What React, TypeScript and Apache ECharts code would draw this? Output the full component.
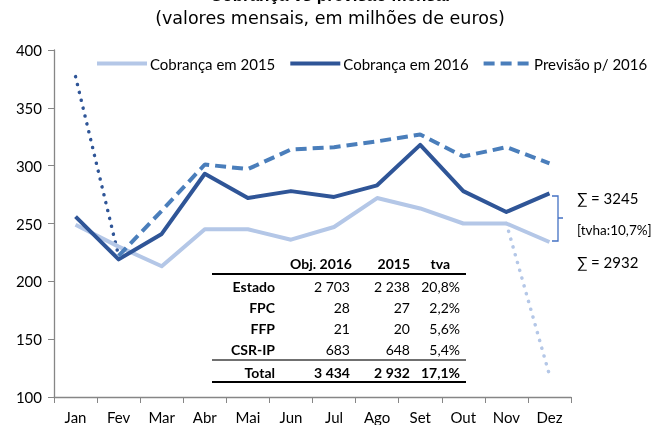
import React, { useEffect, useRef } from "react";
import * as echarts from "echarts";

const months = ["Jan", "Fev", "Mar", "Abr", "Mai", "Jun", "Jul", "Ago", "Set", "Out", "Nov", "Dez"];
const cobranca2015 = [249, 230, 213, 245, 245, 236, 247, 272, 263, 250, 250, 234];
const cobranca2016 = [256, 219, 241, 293, 272, 278, 273, 283, 318, 278, 260, 276];
const previsao2016 = [null, 222, 261, 301, 297, 314, 316, 321, 327, 308, 316, 302];
const dottedJan = [377, 222, null, null, null, null, null, null, null, null, null, null];
const dotted2015Dez = [null, null, null, null, null, null, null, null, null, null, 250, 119];

const tableHeader = ["Obj. 2016", "2015", "tva"];
const tableRows = ["Estado", "FPC", "FFP", "CSR-IP"];
const tableObj2016 = ["2 703", "28", "21", "683"];
const table2015 = ["2 238", "27", "20", "648"];
const tableTva = ["20,8%", "2,2%", "5,6%", "5,4%"];
const tableTotal = ["Total", "3 434", "2 932", "17,1%"];

const sum2016 = "∑ = 3245";
const sum2015 = "∑ = 2932";
const tvha = "[tvha:10,7%]";

const C_LIGHT = "#B4C7E7";
const C_DARK = "#2F5597";
const C_MID = "#4A7EBB";
const FONT = "Lato";

export default function App() {
  const ref = useRef<HTMLDivElement>(null);
  useEffect(() => {
    if (!ref.current) return;
    const chart = echarts.init(ref.current, null, { renderer: "svg" });
    const tf = { fontFamily: FONT, fontWeight: "bold" as const, fontSize: 14, fill: "#000" };
    const graphics: any[] = [];
    graphics.push({ type: "text", x: 330, y: 4, style: { text: "Cobrança vs previsão mensal", fontFamily: "Liberation Sans", fontWeight: "bold", fontSize: 17, fill: "#000", align: "center", verticalAlign: "bottom" } });
    graphics.push({ type: "text", x: 330, y: 18, style: { text: "(valores mensais, em milhões de euros)", fontFamily: "DejaVu Sans", fontSize: 17.5, fill: "#000", align: "center", verticalAlign: "middle" } });
    const colX = [352, 410, 450];
    tableHeader.forEach((h, i) => {
      graphics.push({ type: "text", x: colX[i], y: 263, style: { ...tf, text: h, align: "right", verticalAlign: "middle" } });
    });
    const rowY = [286, 307, 328, 349];
    const valX = [350, 410, 460];
    tableRows.forEach((r, i) => {
      graphics.push({ type: "text", x: 275, y: rowY[i], style: { ...tf, text: r, align: "right", verticalAlign: "middle" } });
      [tableObj2016[i], table2015[i], tableTva[i]].forEach((v, j) => {
        graphics.push({ type: "text", x: valX[j], y: rowY[i], style: { ...tf, fontWeight: "normal", text: v, align: "right", verticalAlign: "middle" } });
      });
    });
    graphics.push({ type: "text", x: 275, y: 372, style: { ...tf, text: tableTotal[0], align: "right", verticalAlign: "middle" } });
    [1, 2, 3].forEach((k, j) => {
      graphics.push({ type: "text", x: valX[j], y: 372, style: { ...tf, text: tableTotal[k], align: "right", verticalAlign: "middle" } });
    });
    [274, 360, 382].forEach((yy, i) => {
      graphics.push({ type: "line", shape: { x1: 212, y1: yy, x2: 466, y2: yy }, style: { stroke: i === 1 ? "#404040" : "#000", lineWidth: i === 1 ? 1.5 : 2 } });
    });
    graphics.push({ type: "polyline", shape: { points: [[552, 196], [558, 196], [558, 218], [563, 218], [558, 218], [558, 241], [552, 241]] }, style: { stroke: "#4472C4", lineWidth: 1.3, fill: null } });
    graphics.push({ type: "text", x: 577, y: 198, style: { text: sum2016, fontFamily: FONT, fontSize: 15, fill: "#000", verticalAlign: "middle" } });
    graphics.push({ type: "text", x: 577, y: 230, style: { text: tvha, fontFamily: FONT, fontSize: 13.5, fill: "#000", verticalAlign: "middle" } });
    graphics.push({ type: "text", x: 577, y: 262, style: { text: sum2015, fontFamily: FONT, fontSize: 15, fill: "#000", verticalAlign: "middle" } });

    const dashIcon = "path://M0,0h11v4h-11z M17,0h11v4h-11z M34,0h11v4h-11z";
    chart.setOption({
      animation: false,
      grid: { left: 54, right: 90, top: 50, bottom: 28, containLabel: false },
      legend: {
        data: [
          { name: "Cobrança em 2015", icon: "rect" },
          { name: "Cobrança em 2016", icon: "rect" },
          { name: "Previsão p/ 2016", icon: dashIcon },
        ],
        left: 92, top: 51, width: 620, itemWidth: 50, itemHeight: 4, itemGap: 15,
        textStyle: { fontFamily: FONT, fontSize: 15, color: "#000", padding: [0, 0, 0, -2] },
      },
      xAxis: {
        type: "category", data: months, boundaryGap: true,
        axisLine: { lineStyle: { color: "#868686", width: 1.3 } },
        axisTick: { show: true, length: 6, lineStyle: { color: "#868686" } },
        axisLabel: { fontFamily: FONT, fontSize: 15, color: "#000", margin: 12 },
      },
      yAxis: {
        type: "value", min: 100, max: 400, interval: 50,
        axisLine: { show: true, lineStyle: { color: "#868686", width: 1.3 } },
        axisTick: { show: true, length: 6, lineStyle: { color: "#868686" } },
        splitLine: { show: false },
        axisLabel: { fontFamily: FONT, fontSize: 15, color: "#000", margin: 12 },
      },
      series: [
        { name: "dotJan", type: "line", data: dottedJan, symbol: "none", lineStyle: { color: C_DARK, width: 3.5, type: [0.1, 8], cap: "round" }, itemStyle: { color: C_DARK } },
        { name: "dot2015", type: "line", data: dotted2015Dez, symbol: "none", lineStyle: { color: C_LIGHT, width: 3.5, type: [0.1, 8], cap: "round" }, itemStyle: { color: C_LIGHT } },
        { name: "Cobrança em 2015", type: "line", data: cobranca2015, symbol: "none", lineStyle: { color: C_LIGHT, width: 4, join: "round" }, itemStyle: { color: C_LIGHT } },
        { name: "Cobrança em 2016", type: "line", data: cobranca2016, symbol: "none", lineStyle: { color: C_DARK, width: 4, join: "round" }, itemStyle: { color: C_DARK } },
        { name: "Previsão p/ 2016", type: "line", data: previsao2016, symbol: "none", lineStyle: { color: C_MID, width: 4, type: [11, 6] }, itemStyle: { color: C_MID } },
      ],
      graphic: graphics,
    });
    return () => chart.dispose();
  }, []);
  return <div ref={ref} style={{ position: "fixed", left: 0, top: 0, width: 661, height: 425 }} />;
}
